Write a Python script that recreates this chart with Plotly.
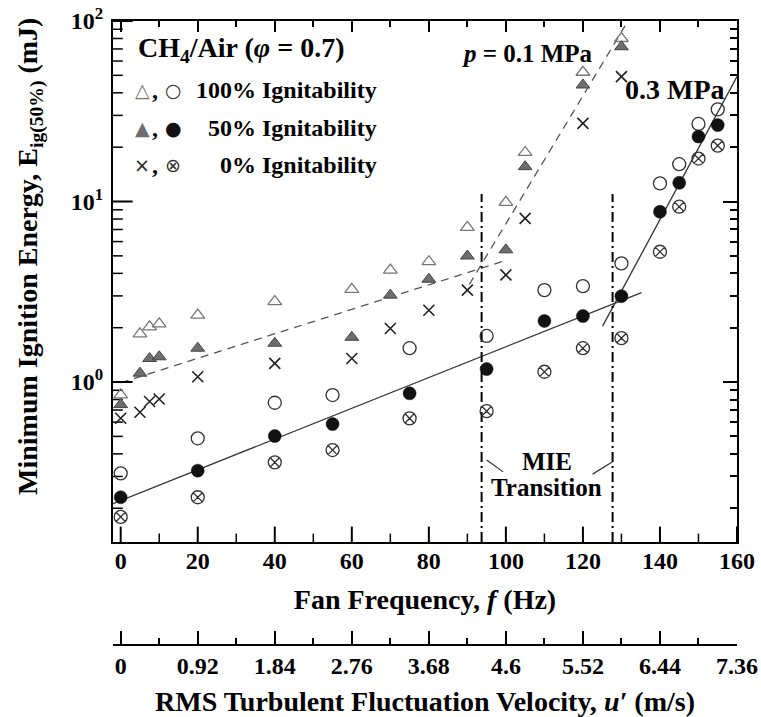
import math
import plotly.graph_objects as go

# ---------------- data ----------------
# p = 0.1 MPa : triangles / crosses
f_01 = [0, 5, 7.5, 10, 20, 40, 60, 70, 80, 90, 100, 105, 120, 130]
E_01_100 = [0.85, 1.85, 2.02, 2.1, 2.35, 2.79, 3.26, 4.17, 4.64, 7.2, 9.9, 18.7, 52, 80]
E_01_50 = [0.75, 1.12, 1.35, 1.38, 1.54, 1.64, 1.77, 3.03, 3.71, 4.99, 5.4, 15.6, 44.2, 72]
E_01_0 = [0.63, 0.68, 0.78, 0.805, 1.07, 1.27, 1.35, 1.98, 2.5, 3.23, 3.92, 8.07, 27.1, 49.2]

# p = 0.3 MPa : circles
f_03 = [0, 20, 40, 55, 75, 95, 110, 120, 130, 140, 145, 150, 155]
E_03_100 = [0.312, 0.488, 0.768, 0.847, 1.54, 1.80, 3.23, 3.40, 4.54, 12.6, 16.1, 26.9, 32.4]
E_03_50 = [0.23, 0.323, 0.502, 0.585, 0.866, 1.18, 2.18, 2.32, 2.99, 8.78, 12.7, 22.9, 26.5]
E_03_0 = [0.179, 0.23, 0.359, 0.42, 0.629, 0.69, 1.14, 1.54, 1.75, 5.27, 9.36, 17.3, 20.4]

# fitted lines (end points)
fit01_low_f = [0, 99]
fit01_low_E = [0.99, 4.65]
fit01_high_f = [90.5, 131.7]
fit01_high_E = [3.47, 100]
fit03_low_f = [-2, 135.2]
fit03_low_E = [0.212, 3.13]
fit03_high_f = [125.1, 160]
fit03_high_E = [2.04, 49.2]

# MIE transition boundaries
trans_f = [93.7, 127.7]
trans_E = [0.13, 11]
lead_left_f = [95.0, 99.3]
lead_left_E = [0.370, 0.318]
lead_right_f = [127.7, 122.5]
lead_right_E = [0.362, 0.309]

# axes
x_range = [-2, 160]
x_major = list(range(0, 161, 20))
x_minor = list(range(10, 160, 20))
y_range_E = [0.13, 100]
y_ticks = [1, 10, 100]
y_ticktext = ["10<sup>0</sup>", "10<sup>1</sup>", "10<sup>2</sup>"]
y_minor = [m * d for d in (0.1, 1, 10) for m in range(2, 10)]
u_per_hz = 0.046
u_ticks = [0, 0.92, 1.84, 2.76, 3.68, 4.6, 5.52, 6.44, 7.36]
u_labels = ["0", "0.92", "1.84", "2.76", "3.68", "4.6", "5.52", "6.44", "7.36"]

FONT = "Liberation Serif"

fig = go.Figure()

# ---------- lines ----------
dash_line = dict(color="#555555", width=1.3, dash="8px,6px")
solid_line = dict(color="#333333", width=1.3)
ddot_line = dict(color="black", width=2, dash="10px,4px,2px,4px")

fig.add_trace(go.Scatter(x=fit01_low_f, y=fit01_low_E, mode="lines", line=dash_line, hoverinfo="skip"))
fig.add_trace(go.Scatter(x=fit01_high_f, y=fit01_high_E, mode="lines", line=dash_line, hoverinfo="skip"))
fig.add_trace(go.Scatter(x=fit03_low_f, y=fit03_low_E, mode="lines", line=solid_line, hoverinfo="skip"))
fig.add_trace(go.Scatter(x=fit03_high_f, y=fit03_high_E, mode="lines", line=solid_line, hoverinfo="skip"))
for fv in trans_f:
    fig.add_trace(go.Scatter(x=[fv, fv], y=trans_E, mode="lines", line=ddot_line, hoverinfo="skip"))
fig.add_trace(go.Scatter(x=lead_left_f, y=lead_left_E, mode="lines",
                         line=dict(color="#333", width=1.2), hoverinfo="skip"))
fig.add_trace(go.Scatter(x=lead_right_f, y=lead_right_E, mode="lines",
                         line=dict(color="#333", width=1.2), hoverinfo="skip"))

# ---------- inward tick marks on the bottom and left frame (clipped to the plot area) ----------
def tick_marks(xs, ys, symbol, size, width):
    return go.Scatter(x=xs, y=ys, mode="markers", hoverinfo="skip", cliponaxis=True,
                      marker=dict(symbol=symbol, size=size, color="black",
                                  line=dict(width=width, color="black")))


fig.add_trace(tick_marks(x_major, [y_range_E[0]] * len(x_major), "line-ns-open", 22, 2))
fig.add_trace(tick_marks(x_minor, [y_range_E[0]] * len(x_minor), "line-ns-open", 12, 1.5))
fig.add_trace(tick_marks([x_range[0]] * len(y_ticks), y_ticks, "line-ew-open", 28, 2))
fig.add_trace(tick_marks([x_range[0]] * len(y_minor), y_minor, "line-ew-open", 14, 1.5))

# ---------- markers ----------
fig.add_trace(go.Scatter(x=f_01, y=E_01_100, mode="markers", name="0.1 MPa 100%",
                         marker=dict(symbol="triangle-up-open", size=12, color="#777777",
                                     line=dict(width=1.3, color="#777777"))))
fig.add_trace(go.Scatter(x=f_01, y=E_01_50, mode="markers", name="0.1 MPa 50%",
                         marker=dict(symbol="triangle-up", size=12, color="#6e6e6e",
                                     line=dict(width=1, color="#444444"))))
fig.add_trace(go.Scatter(x=f_01, y=E_01_0, mode="markers", name="0.1 MPa 0%",
                         marker=dict(symbol="x-thin-open", size=11, color="#222222",
                                     line=dict(width=1.6, color="#222222"))))
fig.add_trace(go.Scatter(x=f_03, y=E_03_100, mode="markers", name="0.3 MPa 100%",
                         marker=dict(symbol="circle-open", size=13, color="#333333",
                                     line=dict(width=1.3, color="#333333"))))
fig.add_trace(go.Scatter(x=f_03, y=E_03_50, mode="markers", name="0.3 MPa 50%",
                         marker=dict(symbol="circle", size=13, color="#111111",
                                     line=dict(width=0.5, color="#111111"))))
fig.add_trace(go.Scatter(x=f_03, y=E_03_0, mode="markers", name="0.3 MPa 0%",
                         marker=dict(symbol="circle-x-open", size=13, color="#333333",
                                     line=dict(width=1.3, color="#333333"))))

# invisible helper traces that carry the secondary scale and the tick-only axes
ghost = dict(mode="markers", marker=dict(opacity=0), hoverinfo="skip", showlegend=False)
fig.add_trace(go.Scatter(x=u_ticks, y=[1] * len(u_ticks), xaxis="x2", yaxis="y", **ghost))
fig.add_trace(go.Scatter(x=x_range, y=[1, 1], xaxis="x3", yaxis="y", **ghost))
fig.add_trace(go.Scatter(x=[0, 0], y=y_range_E, xaxis="x", yaxis="y2", **ghost))

# ---------- layout ----------
W, H = 761, 717
ML, MR, MT, MB = 113, 24, 21, 72
PW = W - ML - MR
PH = H - MT - MB
y_bottom_px = 542


def px(xp):
    return (xp - ML) / PW


def py(yp):
    return (H - MB - yp) / PH


tickfont = dict(family=FONT, size=24, color="black", weight="bold")
titlefont = dict(family=FONT, size=28, color="black", weight="bold")

x_tickset = dict(tickmode="linear", tick0=0, dtick=20, ticks="inside", ticklen=11, tickwidth=2,
                 tickcolor="black",
                 minor=dict(tick0=0, dtick=10, ticks="inside", ticklen=6, tickwidth=1.5,
                            tickcolor="black", showgrid=False))
y_tickset = dict(tickmode="array", tickvals=y_ticks, ticks="inside", ticklen=14, tickwidth=2,
                 tickcolor="black",
                 minor=dict(tickmode="array", tickvals=y_minor, ticks="inside", ticklen=7,
                            tickwidth=1.5, tickcolor="black", showgrid=False))
y_log = dict(type="log", range=[math.log10(y_range_E[0]), math.log10(y_range_E[1])])
tick_only = dict(automargin=False, showline=False, showgrid=False, zeroline=False,
                 showticklabels=False)

fig.update_layout(
    width=W, height=H,
    margin=dict(l=ML, r=MR, t=MT, b=MB, pad=0, autoexpand=False),
    paper_bgcolor="white", plot_bgcolor="rgba(0,0,0,0)",
    showlegend=False,
    font=dict(family=FONT, color="black"),
    xaxis=dict(
        range=x_range, domain=[0, 1], anchor="y", automargin=False,
        tickmode="linear", tick0=0, dtick=20, ticks="",
        showline=True, linewidth=2, linecolor="black", mirror=True,
        showgrid=False, zeroline=False,
        tickfont=tickfont, ticklabelstandoff=-4,
        title=dict(text="Fan Frequency, <i>f</i> (Hz)", font=titlefont, standoff=17),
    ),
    xaxis3=dict(range=x_range, overlaying="x", anchor="y", side="top",
                **tick_only, **x_tickset),
    yaxis=dict(
        domain=[py(y_bottom_px), 1], anchor="x", automargin=False,
        type="log", range=y_log["range"],
        tickmode="array", tickvals=y_ticks, ticktext=y_ticktext, ticks="",
        showline=True, linewidth=2, linecolor="black", mirror=True,
        showgrid=False, zeroline=False,
        tickfont=tickfont, ticklabelstandoff=3,
    ),
    yaxis2=dict(overlaying="y", anchor="x", side="right",
                **tick_only, **y_log, **y_tickset),
    xaxis2=dict(
        range=[x_range[0] * u_per_hz, x_range[1] * u_per_hz],
        overlaying="x", anchor="free", position=0, automargin=False,
        tickmode="array", tickvals=u_ticks, ticktext=u_labels,
        ticks="inside", ticklen=13, tickwidth=2, tickcolor="black",
        showline=True, linewidth=2, linecolor="black",
        showgrid=False, zeroline=False,
        tickfont=tickfont, ticklabelstandoff=-1,
        minor=dict(tick0=0, dtick=0.46, ticks="inside", ticklen=6, tickwidth=1.5,
                   tickcolor="black", showgrid=False),
        title=dict(text="RMS Turbulent Fluctuation Velocity, <i>u\u2032</i> (m/s)",
                   font=titlefont, standoff=16),
    ),
)

ann = []
# y-axis title
ann.append(dict(text="Minimum Ignition Energy, E<sub>ig(50%)</sub> (mJ)",
                xref="paper", yref="paper", x=px(30), y=py(257), textangle=-90,
                xanchor="center", yanchor="middle", showarrow=False, font=titlefont))
# header of legend
ann.append(dict(text="CH<sub>4</sub>/Air (<i>\u03c6</i> = 0.7)", xref="paper", yref="paper",
                x=px(136), y=py(50), xanchor="left", yanchor="middle", showarrow=False,
                font=dict(family=FONT, size=28, color="black", weight="bold")))
# legend rows
rows = [
    ("\u25b3", "#777777", "\u25cb", "#333333", "100% Ignitability", 90),
    ("\u25b2", "#6e6e6e", "\u25cf", "#111111", "50% Ignitability", 128),
    ("\u00d7", "#222222", "\u2297", "#333333", "0% Ignitability", 165),
]
for s1, c1, s2, c2, label, yp in rows:
    ann.append(dict(text=s1, xref="paper", yref="paper", x=px(142), y=py(yp),
                    xanchor="center", yanchor="middle", showarrow=False,
                    font=dict(family="DejaVu Sans", size=19, color=c1)))
    ann.append(dict(text=",", xref="paper", yref="paper", x=px(155), y=py(yp),
                    xanchor="center", yanchor="middle", showarrow=False,
                    font=dict(family=FONT, size=24, color="black", weight="bold")))
    ann.append(dict(text=s2, xref="paper", yref="paper", x=px(173), y=py(yp),
                    xanchor="center", yanchor="middle", showarrow=False,
                    font=dict(family="DejaVu Sans", size=19, color=c2)))
    ann.append(dict(text=label, xref="paper", yref="paper", x=px(379), y=py(yp),
                    xanchor="right", yanchor="middle", showarrow=False,
                    font=dict(family=FONT, size=24, color="black", weight="bold")))

# in-plot labels (data coords; log axis uses log10 values)
ann.append(dict(text="<i>p</i> = 0.1 MPa", x=105.6, y=math.log10(66.2), xref="x", yref="y",
                showarrow=False, xanchor="center", yanchor="middle",
                font=dict(family=FONT, size=25, color="black", weight="bold")))
ann.append(dict(text="0.3 MPa", x=143.9, y=math.log10(41.5), xref="x", yref="y",
                showarrow=False, xanchor="center", yanchor="middle",
                font=dict(family=FONT, size=28, color="black", weight="bold")))
ann.append(dict(text="MIE", x=110.6, y=math.log10(0.362), xref="x", yref="y",
                showarrow=False, xanchor="center", yanchor="middle",
                font=dict(family=FONT, size=25, color="black", weight="bold")))
ann.append(dict(text="Transition", x=110.6, y=math.log10(0.259), xref="x", yref="y",
                showarrow=False, xanchor="center", yanchor="middle",
                font=dict(family=FONT, size=25, color="black", weight="bold")))

fig.update_layout(annotations=ann)

fig.write_html("out.html")
